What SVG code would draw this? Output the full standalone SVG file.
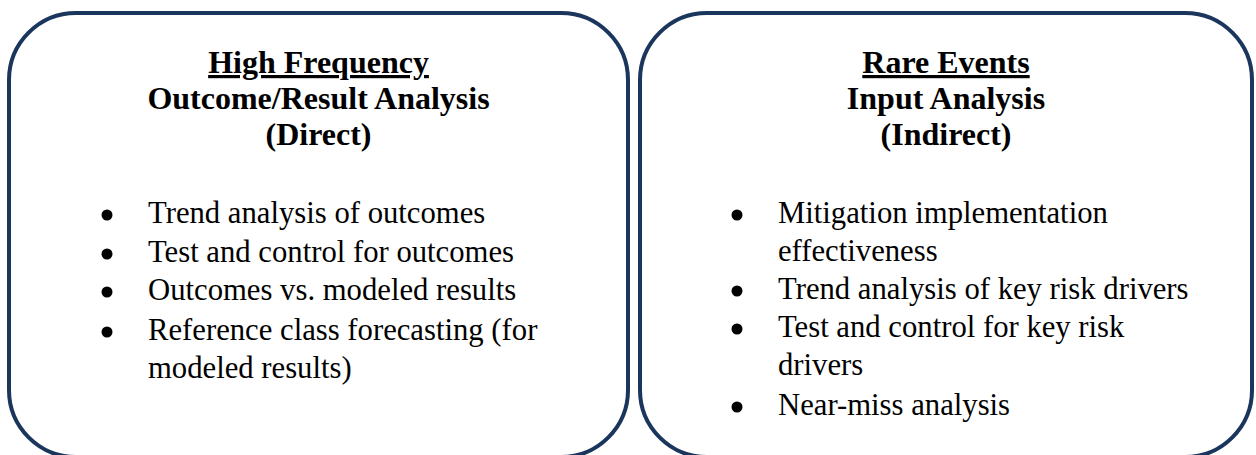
<svg xmlns="http://www.w3.org/2000/svg" width="1256" height="455" viewBox="0 0 1256 455">
  <style>
    .panel { fill: #ffffff; stroke: #1b365d; stroke-width: 4; }
    .head { font-family: "Liberation Serif", "Times New Roman", serif; font-size: 32px; font-weight: bold; fill: #000000; text-anchor: middle; }
    .head-u { text-decoration: underline; }
    .item { font-family: "Liberation Serif", "Times New Roman", serif; font-size: 30.7px; fill: #000000; }
    .dot { fill: #000000; }
  </style>
  <rect width="1256" height="455" fill="#ffffff"/>

  <!-- Left panel: high-frequency outcome analysis (bottom runs off the canvas) -->
  <g id="high-frequency">
    <rect class="panel" x="9" y="13" width="619" height="444" rx="67" ry="67"/>
    <text class="head head-u" x="318.5" y="73">High Frequency</text>
    <text class="head" x="318.5" y="109">Outcome/Result Analysis</text>
    <text class="head" x="318.5" y="145">(Direct)</text>
    <circle class="dot" cx="107" cy="215" r="5.5"/>
    <text class="item" x="148" y="223">Trend analysis of outcomes</text>
    <circle class="dot" cx="107" cy="254" r="5.5"/>
    <text class="item" x="148" y="262">Test and control for outcomes</text>
    <circle class="dot" cx="107" cy="292" r="5.5"/>
    <text class="item" x="148" y="300">Outcomes vs. modeled results</text>
    <circle class="dot" cx="107" cy="332" r="5.5"/>
    <text class="item" x="148" y="340">Reference class forecasting (for</text>
    <text class="item" x="148" y="378">modeled results)</text>
  </g>

  <!-- Right panel: rare-event input analysis (bottom runs off the canvas) -->
  <g id="rare-events">
    <rect class="panel" x="640" y="13" width="612" height="444" rx="67" ry="67"/>
    <text class="head head-u" x="946" y="73">Rare Events</text>
    <text class="head" x="946" y="109">Input Analysis</text>
    <text class="head" x="946" y="145">(Indirect)</text>
    <circle class="dot" cx="737" cy="215" r="5.5"/>
    <text class="item" x="778" y="223">Mitigation implementation</text>
    <text class="item" x="778" y="261">effectiveness</text>
    <circle class="dot" cx="737" cy="291" r="5.5"/>
    <text class="item" x="778" y="299">Trend analysis of key risk drivers</text>
    <circle class="dot" cx="737" cy="329" r="5.5"/>
    <text class="item" x="778" y="337">Test and control for key risk</text>
    <text class="item" x="778" y="375">drivers</text>
    <circle class="dot" cx="737" cy="407" r="5.5"/>
    <text class="item" x="778" y="415">Near-miss analysis</text>
  </g>

  <!-- No connectors between the two panels -->
  <g id="connectors"/>
</svg>
